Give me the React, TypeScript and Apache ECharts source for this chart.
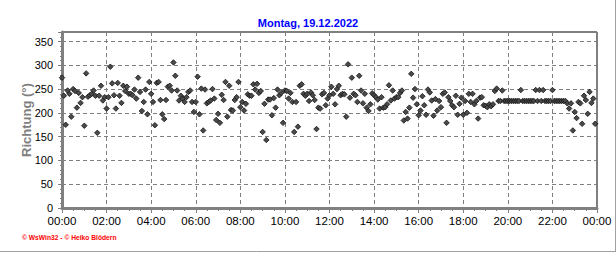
import React, { useEffect, useRef } from "react";
import * as echarts from "echarts";

const TITLE = "Montag, 19.12.2022";
const Y_NAME = "Richtung (°)";
const FOOTER = "© WsWin32 - © Heiko Blödern";
const STEP_MIN = 5;
const X_TICK_LABELS = ["00:00", "02:00", "04:00", "06:00", "08:00", "10:00", "12:00", "14:00", "16:00", "18:00", "20:00", "22:00", "00:00"];

// 00:00 - 03:55
const DIR_A: number[] = [274, 236, 175, 247, 240, 192, 250, 246, 211, 242, 221, 233, 173, 283, 234, 237, 240, 247, 236, 158, 236, 257, 226, 233, 209, 233, 297, 262, 237, 209, 263, 236, 221, 257, 246, 255, 240, 240, 237, 249, 230, 274, 244, 204, 223, 249, 197, 265];
// 04:00 - 07:55
const DIR_B: number[] = [240, 223, 174, 263, 265, 227, 197, 187, 227, 255, 257, 247, 306, 278, 247, 226, 236, 230, 223, 233, 244, 247, 223, 202, 223, 276, 197, 251, 163, 249, 220, 223, 226, 250, 230, 185, 198, 179, 238, 227, 265, 192, 257, 206, 205, 227, 233, 265];
// 08:00 - 11:50
const DIR_C: number[] = [212, 223, 205, 219, 239, 236, 236, 260, 249, 261, 242, 246, 160, 219, 143, 228, 228, 195, 231, 211, 249, 237, 242, 179, 247, 246, 230, 242, 223, 160, 223, 171, 257, 260, 240, 236, 240, 225, 243, 237, 227, 166, 211, 209, 239, 242, 216];
// 11:55 - 15:50
const DIR_D: number[] = [230, 237, 255, 240, 218, 250, 257, 237, 240, 239, 192, 302, 232, 274, 240, 237, 223, 278, 247, 220, 240, 211, 204, 218, 241, 237, 233, 228, 209, 233, 211, 212, 218, 258, 226, 247, 230, 233, 233, 242, 247, 184, 202, 188, 211, 282, 232, 250];
// 15:55 - 19:50
const DIR_E: number[] = [218, 195, 205, 235, 216, 196, 249, 243, 226, 194, 229, 205, 225, 212, 240, 243, 179, 233, 225, 216, 212, 236, 196, 219, 232, 196, 225, 200, 240, 223, 240, 218, 225, 188, 232, 233, 216, 215, 212, 218, 214, 218, 246, 251, 225, 225, 247, 225];
// 19:55 - 22:35
const DIR_F: number[] = [225, 225, 225, 225, 225, 225, 225, 225, 248, 225, 225, 225, 225, 225, 225, 225, 248, 225, 248, 225, 248, 225, 225, 225, 225, 248, 225, 225, 225, 225, 225, 225, 225];
// 22:40 - 23:55
const DIR_G: number[] = [220, 209, 220, 163, 202, 189, 223, 220, 177, 236, 227, 198, 244, 221, 230, 177];

const DIRECTION: number[] = [...DIR_A, ...DIR_B, ...DIR_C, ...DIR_D, ...DIR_E, ...DIR_F, ...DIR_G];

const FONT = "'Liberation Sans', Arial, sans-serif";

export default function App() {
  const ref = useRef<HTMLDivElement>(null);
  useEffect(() => {
    document.body.style.margin = "0";
    const chart = echarts.init(ref.current!, null, { renderer: "svg" });
    const data = DIRECTION.map((v, i) => [i * STEP_MIN, v]);
    chart.setOption({
      animation: false,
      backgroundColor: "#ffffff",
      title: {
        text: TITLE,
        left: "center",
        top: 12,
        textStyle: { color: "#0000ff", fontWeight: "bold", fontSize: 11, fontFamily: FONT },
      },
      grid: {
        left: 62,
        right: 19,
        top: 32,
        bottom: 45,
        show: true,
        borderColor: "#000000",
        borderWidth: 1,
        backgroundColor: "transparent",
      },
      xAxis: {
        type: "value",
        min: 0,
        max: 1440,
        interval: 120,
        axisLine: { show: true, onZero: false, lineStyle: { color: "#808080", width: 3 } },
        axisTick: { show: true, length: 5, lineStyle: { color: "#808080" } },
        minorTick: { show: true, splitNumber: 4, length: 3, lineStyle: { color: "#808080" } },
        axisLabel: {
          color: "#000000",
          fontSize: 11.5,
          fontFamily: FONT,
          margin: 7,
          formatter: (v: number) => X_TICK_LABELS[Math.round(v / 120)] ?? "",
        },
        splitLine: { show: true, lineStyle: { color: "#808080", type: [4, 3], width: 1 } },
      },
      yAxis: {
        type: "value",
        min: 0,
        max: 370,
        interval: 50,
        name: Y_NAME,
        nameLocation: "middle",
        nameGap: 29,
        nameMoveOverlap: false,
        nameTextStyle: { color: "#808080", fontWeight: "bold", fontSize: 13, fontFamily: FONT },
        axisLine: { show: true, lineStyle: { color: "#808080", width: 3 } },
        axisTick: { show: true, length: 4, lineStyle: { color: "#808080" } },
        minorTick: { show: true, splitNumber: 5, length: 2, lineStyle: { color: "#808080" } },
        axisLabel: {
          color: "#000000",
          fontSize: 11,
          fontFamily: FONT,
          margin: 9,
          formatter: (v: number) => (v % 50 === 0 && v <= 350 ? String(v) : ""),
        },
        splitLine: { show: true, lineStyle: { color: "#808080", type: [4, 3], width: 1 } },
      },
      graphic: [
        {
          type: "text",
          left: 22,
          top: 234,
          style: { text: FOOTER, fill: "#ff0000", fontSize: 6.7, fontWeight: "bold", fontFamily: FONT },
        },
        {
          type: "line",
          shape: { x1: 615.5, y1: 0, x2: 615.5, y2: 252 },
          style: { stroke: "#a0a0a0", lineWidth: 1 },
        },
        {
          type: "line",
          shape: { x1: 0, y1: 251.5, x2: 616, y2: 251.5 },
          style: { stroke: "#a0a0a0", lineWidth: 1 },
        },
      ],
      series: [
        {
          type: "scatter",
          data,
          symbol: "diamond",
          symbolSize: 5.5,
          itemStyle: { color: "#4a4a4a", borderColor: "#141414", borderWidth: 0.8, opacity: 1 },
        },
      ],
    });
    return () => chart.dispose();
  }, []);
  return <div ref={ref} style={{ width: 616, height: 253 }} />;
}
